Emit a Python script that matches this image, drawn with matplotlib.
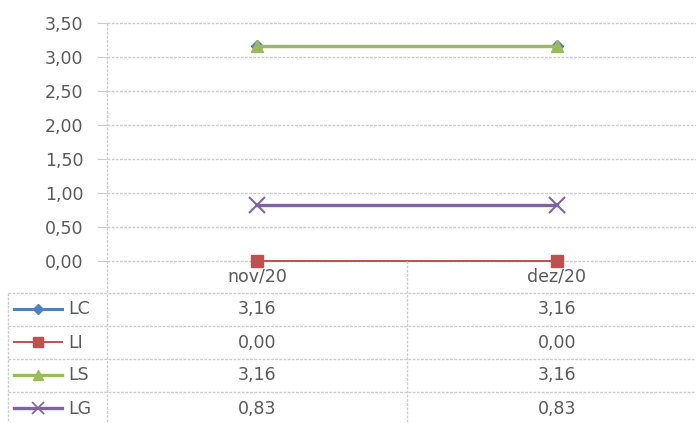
import matplotlib
matplotlib.use("Agg")
import matplotlib.pyplot as plt
from matplotlib.transforms import blended_transform_factory

# ---- data ----
months = ["nov/20", "dez/20"]
names = ["LC", "LI", "LS", "LG"]
lc = [3.16, 3.16]
li = [0.00, 0.00]
ls = [3.16, 3.16]
lg = [0.83, 0.83]
y_ticks = [0.0, 0.5, 1.0, 1.5, 2.0, 2.5, 3.0, 3.5]

# ---- styles ----
colors = {"LC": "#4F81BD", "LI": "#C0504D", "LS": "#9BBB59", "LG": "#8064A2"}
markers = {"LC": "D", "LI": "s", "LS": "^", "LG": "x"}
msizes = {"LC": 6, "LI": 9, "LS": 9, "LG": 11}
lwidths = {"LC": 2.2, "LI": 1.4, "LS": 2.4, "LG": 2.4}
txt = "#595959"
grid_c = "#cccccc"
fs = 12.5

W, H = 696, 423
fig = plt.figure(figsize=(W / 100, H / 100), dpi=100)

# main plot, in pixel layout: x 107..707, y 23..261
def px_box(x0, y0, x1, y1):
    return [x0 / W, 1 - y1 / H, (x1 - x0) / W, (y1 - y0) / H]

ax = fig.add_axes(px_box(107, 23, 707, 261))
values = {"LC": lc, "LI": li, "LS": ls, "LG": lg}
xs = list(range(len(months)))
for n in names:
    ax.plot(xs, values[n], color=colors[n], marker=markers[n], ms=msizes[n],
            lw=lwidths[n], mew=1.5 if n == "LG" else 1, clip_on=False, zorder=3)

ax.set_xlim(-0.5, len(months) - 0.5)
ax.set_ylim(0, 3.5)
ax.set_yticks(y_ticks)
ax.set_yticklabels([f"{v:.2f}".replace(".", ",") for v in y_ticks])
ax.set_xticks(xs)
ax.set_xticklabels(months)
ax.tick_params(axis="y", length=7, color=grid_c, labelcolor=txt, labelsize=fs, pad=10)
ax.tick_params(axis="x", length=0, labelcolor=txt, labelsize=fs, pad=5)
ax.grid(axis="y", color=grid_c, ls=(0, (2, 1)), lw=1)
for gl in ax.get_ygridlines():
    gl.set_clip_on(False)
for s in ax.spines.values():
    s.set_visible(False)

# ---- data table below ----
tax = fig.add_axes([0, 0, 1, 1], facecolor="none")
tax.set_xlim(0, W)
tax.set_ylim(H, 0)
tax.axis("off")
tr = blended_transform_factory(ax.transData, tax.transData)

row_top = 293
row_h = 33
line_kw = dict(color=grid_c, lw=1, ls=(0, (2, 1)))
for i in range(len(names)):
    yl = row_top + i * row_h
    tax.plot([8, W], [yl, yl], **line_kw)
tax.plot([8, 8], [row_top, H], **line_kw)
# category boundaries
tax.plot([-0.5, -0.5], [23, H], transform=tr, **line_kw)
for b in range(1, len(months)):
    tax.plot([b - 0.5, b - 0.5], [261, H], transform=tr, **line_kw)

for i, n in enumerate(names):
    yc = row_top + i * row_h + row_h / 2
    tax.plot([14, 62], [yc, yc], color=colors[n], lw=lwidths[n])
    tax.plot([38], [yc], color=colors[n], marker=markers[n], ms=msizes[n] * 0.8,
             mew=1.2 if n == "LG" else 1)
    tax.text(68, yc, n, color=txt, fontsize=fs, va="center", ha="left")
    for j in xs:
        tax.text(j, yc, f"{values[n][j]:.2f}".replace(".", ","), transform=tr,
                 color=txt, fontsize=fs, va="center", ha="center")

fig.savefig("out.png", dpi=100)
